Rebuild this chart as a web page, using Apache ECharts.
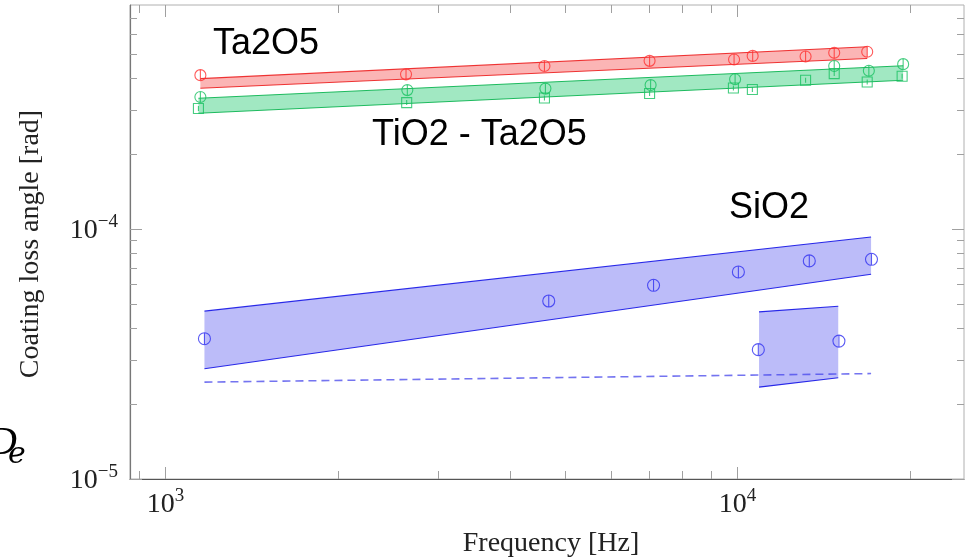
<!DOCTYPE html>
<html><head><meta charset="utf-8">
<script src="https://cdn.jsdelivr.net/npm/echarts@6/dist/echarts.min.js"></script>
<style>html,body{margin:0;padding:0;background:#fff}#c{width:967px;height:559px}</style>
</head><body><div id="c"></div>
<script>
// ---- axis ranges and tick values ----
const X_MIN = 867, X_MAX = 24900, Y_MIN = 1e-5, Y_MAX = 7.86e-4;
const xMajorTicks = [1000, 10000];
const xMinorTicks = [900, 2000, 3000, 4000, 5000, 6000, 7000, 8000, 9000, 20000];
const yMajorTicks = [1e-5, 1e-4];
const yMinorTicks = [2e-5, 3e-5, 4e-5, 5e-5, 6e-5, 7e-5, 8e-5, 9e-5, 2e-4, 3e-4, 4e-4, 5e-4, 6e-4, 7e-4];

// ---- Ta2O5 (red) ----
const ta2o5Freq = [1151, 2634, 4599, 7022, 9867, 10634, 13159, 14767, 16864];
const ta2o5Loss = [4.12e-4, 4.15e-4, 4.48e-4, 4.70e-4, 4.76e-4, 4.92e-4, 4.89e-4, 5.06e-4, 5.11e-4];
const ta2o5BandFreq = [1151, 16864];
const ta2o5BandUpper = [3.99e-4, 5.35e-4];
const ta2o5BandLower = [3.65e-4, 4.80e-4];

// ---- TiO2 - Ta2O5 (green) ----
const tiCircFreq = [1151, 2648, 4617, 7051, 9908, 14767, 16976, 19490];
const tiCircLoss = [3.37e-4, 3.59e-4, 3.64e-4, 3.76e-4, 3.97e-4, 4.48e-4, 4.29e-4, 4.56e-4];
const tiSqFreq = [1142, 2641, 4599, 7022, 9841, 10622, 13159, 14767, 16864, 19409];
const tiSqLoss = [3.03e-4, 3.20e-4, 3.34e-4, 3.48e-4, 3.66e-4, 3.61e-4, 3.93e-4, 4.18e-4, 3.87e-4, 4.08e-4];
const tiBandFreq = [1142, 19490];
const tiBandUpper = [3.33e-4, 4.49e-4];
const tiBandLower = [2.90e-4, 3.93e-4];

// ---- SiO2 (blue) ----
const sio2Freq = [1170, 4679, 7135, 10040, 13357, 17157, 10879, 15050];
const sio2Loss = [3.64e-5, 5.15e-5, 5.95e-5, 6.73e-5, 7.45e-5, 7.56e-5, 3.29e-5, 3.56e-5];
const sio2BandFreq = [1170, 17130];
const sio2BandUpper = [4.69e-5, 9.29e-5];
const sio2BandLower = [2.76e-5, 6.59e-5];
const sio2Band2Freq = [10911, 15008];
const sio2Band2Upper = [4.66e-5, 4.91e-5];
const sio2Band2Lower = [2.33e-5, 2.54e-5];
const sio2DashFreq = [1170, 17130];
const sio2DashLoss = [2.44e-5, 2.64e-5];

const SERIF = '"Liberation Serif", "DejaVu Serif", serif';
const SANS = '"Liberation Sans", Arial, sans-serif';

function zip(a, b) { return a.map((v, i) => [v, b[i]]); }
function bandRow(f, u, l) { return [f[0], f[1], u[0], u[1], l[0], l[1]]; }

function bandSeries(rows, fill, stroke) {
  return {
    type: 'custom', silent: true, z: 1,
    encode: { x: [0, 1], y: [2, 3, 4, 5] },
    data: rows,
    renderItem: function (params, api) {
      const a = api.coord([api.value(0), api.value(2)]);
      const b = api.coord([api.value(1), api.value(3)]);
      const c = api.coord([api.value(1), api.value(5)]);
      const d = api.coord([api.value(0), api.value(4)]);
      return { type: 'group', children: [
        { type: 'polygon', shape: { points: [a, b, c, d] }, style: { fill: fill } },
        { type: 'polyline', shape: { points: [a, b] }, style: { stroke: stroke, lineWidth: 1.1, fill: null } },
        { type: 'polyline', shape: { points: [d, c] }, style: { stroke: stroke, lineWidth: 1.1, fill: null } }
      ]};
    }
  };
}

function tickSeries(values, isX, len) {
  return {
    type: 'custom', silent: true, z: 6,
    encode: { x: 0, y: 1 },
    data: values.map(v => isX ? [v, Y_MIN] : [X_MIN, v]),
    renderItem: function (params, api) {
      const cs = params.coordSys;
      const p = api.coord([api.value(0), api.value(1)]);
      const st = { stroke: '#a0a0a0', lineWidth: 1 };
      if (isX) {
        const x = Math.round(p[0]) + 0.5;
        return { type: 'group', children: [
          { type: 'line', shape: { x1: x, y1: cs.y + cs.height, x2: x, y2: cs.y + cs.height - len }, style: st },
          { type: 'line', shape: { x1: x, y1: cs.y, x2: x, y2: cs.y + len }, style: st }
        ]};
      }
      const y = Math.round(p[1]) + 0.5;
      return { type: 'group', children: [
        { type: 'line', shape: { x1: cs.x, y1: y, x2: cs.x + len, y2: y }, style: st },
        { type: 'line', shape: { x1: cs.x + cs.width, y1: y, x2: cs.x + cs.width - len, y2: y }, style: st }
      ]};
    }
  };
}

function powLabel(v) {
  const l = Math.log10(v);
  const e = Math.round(l);
  if (Math.abs(l - e) > 1e-6) return '';
  return '{b|10}{s|' + String(e).replace('-', '\u2212') + '}';
}
const labelRich = {
  b: { fontFamily: SERIF, fontSize: 28, color: '#222', lineHeight: 32, verticalAlign: 'bottom' },
  s: { fontFamily: SERIF, fontSize: 19, color: '#222', lineHeight: 16, verticalAlign: 'top' }
};

const CIRCLE = 'path://M10,0A10,10 0 1 1 10,20A10,10 0 1 1 10,0Z M10,0L10,20';
const SQUARE = 'path://M0,0L20,0L20,20L0,20Z M10,5L10,15';

function markerSeries(data, symbol, size, color) {
  return {
    type: 'scatter', data: data, symbol: symbol, symbolSize: size, z: 4, silent: true,
    itemStyle: { color: 'rgba(0,0,0,0)', borderColor: color, borderWidth: 1.1 }
  };
}

const chart = echarts.init(document.getElementById('c'), null, { renderer: 'canvas' });
chart.setOption({
  animation: false,
  backgroundColor: '#fff',
  grid: { left: 130, top: 5, right: 1, bottom: 80, show: true, borderColor: '#b0b0b0', borderWidth: 1, backgroundColor: 'transparent' },
  xAxis: {
    type: 'log', min: X_MIN, max: X_MAX,
    axisLine: { show: true, lineStyle: { color: '#555', width: 1.2 } },
    axisTick: { show: false }, splitLine: { show: false }, minorTick: { show: false },
    axisLabel: { margin: 8, formatter: powLabel, rich: labelRich }
  },
  yAxis: {
    type: 'log', min: Y_MIN, max: Y_MAX,
    axisLine: { show: true, lineStyle: { color: '#777', width: 1.2 } },
    axisTick: { show: false }, splitLine: { show: false }, minorTick: { show: false },
    axisLabel: { margin: 12, formatter: powLabel, rich: labelRich }
  },
  graphic: [
    { type: 'text', x: 31, y: 244, rotation: Math.PI / 2, style: { text: 'Coating loss angle [rad]', font: '28px ' + SERIF, fill: '#222', align: 'center', verticalAlign: 'middle' } },
    { type: 'text', x: 551, y: 544, style: { text: 'Frequency [Hz]', font: '28px ' + SERIF, fill: '#222', align: 'center', verticalAlign: 'middle' } },
    { type: 'text', x: 213, y: 44, style: { text: 'Ta2O5', font: '36px ' + SANS, fill: '#000', align: 'left', verticalAlign: 'middle' } },
    { type: 'text', x: 372, y: 135, style: { text: 'TiO2 - Ta2O5', font: '36px ' + SANS, fill: '#000', align: 'left', verticalAlign: 'middle' } },
    { type: 'text', x: 729, y: 208, style: { text: 'SiO2', font: '36px ' + SANS, fill: '#000', align: 'left', verticalAlign: 'middle' } },
    { type: 'text', x: -12, y: 443, style: { text: 'D', font: 'italic 40px ' + SERIF, fill: '#000', align: 'left', verticalAlign: 'middle' } },
    { type: 'text', x: 8, y: 455, style: { text: 'e', font: 'italic 30px "DejaVu Serif", serif', fill: '#000', align: 'left', verticalAlign: 'middle' } }
  ],
  series: [
    bandSeries([bandRow(ta2o5BandFreq, ta2o5BandUpper, ta2o5BandLower)], 'rgba(245,60,60,0.38)', 'rgba(235,20,20,0.85)'),
    bandSeries([bandRow(tiBandFreq, tiBandUpper, tiBandLower)], 'rgba(30,200,110,0.42)', 'rgba(10,180,80,0.9)'),
    bandSeries([bandRow(sio2BandFreq, sio2BandUpper, sio2BandLower), bandRow(sio2Band2Freq, sio2Band2Upper, sio2Band2Lower)], 'rgba(80,80,240,0.38)', 'rgba(20,20,230,0.9)'),
    {
      type: 'line', data: zip(sio2DashFreq, sio2DashLoss), symbol: 'none', z: 3, silent: true,
      lineStyle: { color: 'rgba(70,70,235,0.75)', width: 1.6, type: [8, 5] }
    },
    markerSeries(zip(ta2o5Freq, ta2o5Loss), CIRCLE, 11, '#ff3030'),
    markerSeries(zip(tiCircFreq, tiCircLoss), CIRCLE, 11, '#18c060'),
    markerSeries(zip(tiSqFreq, tiSqLoss), SQUARE, 10, '#18c060'),
    markerSeries(zip(sio2Freq, sio2Loss), CIRCLE, 12, '#3030f0'),
    tickSeries(xMajorTicks, true, 12),
    tickSeries(xMinorTicks, true, 8),
    tickSeries(yMajorTicks, false, 12),
    tickSeries(yMinorTicks, false, 7)
  ]
});
</script>
</body></html>
